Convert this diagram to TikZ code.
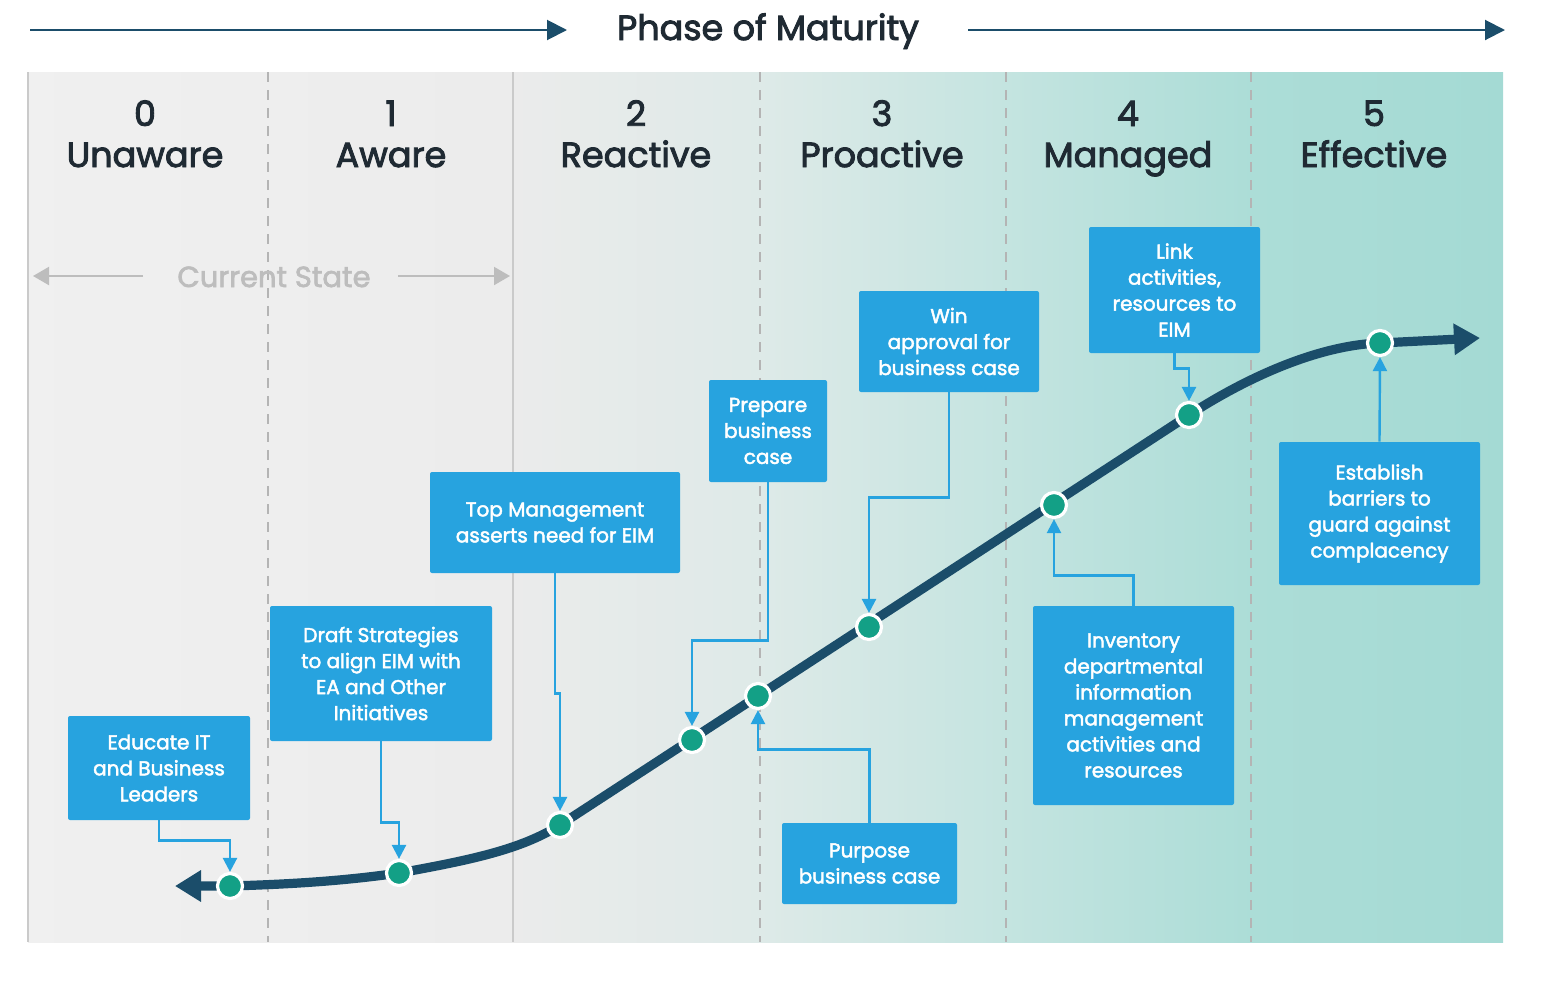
\documentclass[tikz,border=0pt]{standalone}
\usepackage{fontspec}
\setmainfont{Poppins}
\newfontfamily\medfont{Poppins}[FakeBold=2.2]
\newfontfamily\hdrfont{Poppins}[FakeBold=2.6]
\usetikzlibrary{arrows.meta}
\definecolor{darkline}{HTML}{1B4D6A}
\definecolor{boxblue}{HTML}{27A3DF}
\definecolor{dotgreen}{HTML}{13A086}
\definecolor{hdrtext}{HTML}{1F2A33}
\definecolor{graytext}{HTML}{BDBDBD}
\definecolor{divsolid}{HTML}{CACACA}
\definecolor{divdash}{HTML}{B4B4B4}
\tikzset{
  hdr/.style={font=\hdrfont\fontsize{17.5}{20}\selectfont, text=hdrtext, inner sep=0pt, anchor=base},
  stepbox/.style={fill=boxblue, rounded corners=1pt, text=white, align=center,
    font=\medfont\fontsize{10}{13}\selectfont, inner sep=0pt},
  dot/.style={circle, fill=dotgreen, draw=white, line width=1.6pt, minimum size=12.5pt, inner sep=0pt},
  conn/.style={draw=boxblue, line width=1.2pt, -{Triangle[length=7pt,width=7pt]}},
  curve/.style={draw=darkline, line width=4.6pt, {Triangle[length=13pt,width=15pt]}-{Triangle[length=13pt,width=15pt]}},
  phasearrow/.style={draw=darkline, line width=1pt, -{Triangle[length=10pt,width=10pt]}},
  cursarrow/.style={draw=graytext, line width=1pt, -{Triangle[length=8pt,width=9pt]}},
  dashdiv/.style={draw=divdash, line width=0.6pt, dash pattern=on 5pt off 4pt},
  soliddiv/.style={draw=divsolid, line width=0.8pt}
}
\begin{document}
\begin{tikzpicture}[x=0.5pt, y=-0.5pt]
\useasboundingbox (0,0) rectangle (1543,997);
% background panel
\shade[left color=black!6, right color=black!7.5] (28,72) rectangle (513.5,942);
\shade[left color={rgb,255:red,235;green,235;blue,235}, right color={rgb,255:red,222;green,234;blue,232}] (513,72) rectangle (760.5,942);
\shade[left color={rgb,255:red,222;green,234;blue,232}, right color={rgb,255:red,196;green,228;blue,224}] (760,72) rectangle (1006.5,942);
\shade[left color={rgb,255:red,196;green,228;blue,224}, right color={rgb,255:red,172;green,221;blue,215}] (1006,72) rectangle (1251.5,942);
\shade[left color={rgb,255:red,172;green,221;blue,215}, right color={rgb,255:red,164;green,218;blue,212}] (1251,72) rectangle (1503,942);
% dividers
\draw[soliddiv] (28,72) -- (28,942);
\draw[soliddiv] (513,72) -- (513,942);
\foreach \xx in {268,760,1006,1251} \draw[dashdiv] (\xx,72) -- (\xx,942);
% title and phase arrows
\node[hdr] (title) at (768,40) {Phase of Maturity};
\coordinate (pa1s) at (30,30); \coordinate (pa1e) at (567,30);
\coordinate (pa2s) at (968,30); \coordinate (pa2e) at (1505,30);
\draw[phasearrow] (pa1s) -- (pa1e);
\draw[phasearrow] (pa2s) -- (pa2e);
% headers
\node[hdr] (n0) at (145,126) {0}; \node[hdr] (t0) at (145,167) {Unaware};
\node[hdr] (n1) at (391,126) {1}; \node[hdr] (t1) at (391,167) {Aware};
\node[hdr] (n2) at (636,126) {2}; \node[hdr] (t2) at (636,167) {Reactive};
\node[hdr] (n3) at (882,126) {3}; \node[hdr] (t3) at (882,167) {Proactive};
\node[hdr] (n4) at (1128,126) {4}; \node[hdr] (t4) at (1128,167) {Managed};
\node[hdr] (n5) at (1374,126) {5}; \node[hdr] (t5) at (1374,167) {Effective};
% current state
\node[font=\medfont\fontsize{14.5}{16}\selectfont, text=graytext, inner sep=0pt, anchor=base] (cs) at (274,287) {Current State};
\coordinate (csl1) at (143,276); \coordinate (csl2) at (33,276);
\coordinate (csr1) at (398,276); \coordinate (csr2) at (510,276);
\draw[cursarrow] (csl1) -- (csl2);
\draw[cursarrow] (csr1) -- (csr2);
% curve
\coordinate (p1) at (230,886);
\coordinate (p2) at (399,873);
\coordinate (p3) at (560,825);
\coordinate (p4) at (692,740);
\coordinate (p5) at (758,696);
\coordinate (p6) at (869,627);
\coordinate (p7) at (1054,505);
\coordinate (p8) at (1189,415);
\coordinate (p9) at (1380,343);
\coordinate (tipL) at (175,886);
\coordinate (tipR) at (1480,338);
\draw[curve] (tipL) -- (p1) .. controls (300,884) and (350,880) .. (p2)
  .. controls (470,860) and (520,850) .. (p3) -- (p8)
  .. controls (1249,376) and (1320,345) .. (p9)
  .. controls (1420,341) .. (tipR);
\foreach \i in {1,...,9} \node[dot] (d\i) at (p\i) {};
% boxes
\node[stepbox, minimum width=91pt, minimum height=52pt] (b1) at (159,768) {Educate IT\\and Business\\Leaders};
\node[stepbox, minimum width=111pt, minimum height=67.5pt] (b2) at (381,673.5) {Draft Strategies\\to align EIM with\\EA and Other\\Initiatives};
\node[stepbox, minimum width=125pt, minimum height=50.5pt] (b3) at (555,522.5) {Top Management\\asserts need for EIM};
\node[stepbox, minimum width=59pt, minimum height=51pt] (b4) at (768,431) {Prepare\\business\\case};
\node[stepbox, minimum width=90pt, minimum height=50.5pt] (b5) at (949,341.5) {Win\\approval for\\business case};
\node[stepbox, minimum width=85.5pt, minimum height=63pt] (b6) at (1174.5,290) {Link\\activities,\\resources to\\EIM};
\node[stepbox, minimum width=100.5pt, minimum height=71.5pt] (b7) at (1379.5,513.5) {Establish\\barriers to\\guard against\\complacency};
\node[stepbox, minimum width=100.5pt, minimum height=99.5pt] (b8) at (1133.5,705.5) {Inventory\\departmental\\information\\management\\activities and\\resources};
\node[stepbox, minimum width=87.5pt, minimum height=40.5pt] (b9) at (869.5,863.5) {Purpose\\business case};
% connectors
\draw[conn] (b1.south) -- ++(0,20) -| (d1.north);
\draw[conn] (b2.south) -- ++(0,81) -| (d2.north);
\draw[conn] (b3.south) -- ++(0,120) -| (d3.north);
\draw[conn] (b4.south) -- ++(0,158) -| (d4.north);
\draw[conn] (b5.south) -- ++(0,105) -| (d6.north);
\draw[conn] (b6.south) -- ++(0,15) -| (d8.north);
\draw[conn] (b7.north) -- (d9.south);
\draw[conn] (b8.north) -- ++(0,-30) -| (d7.south);
\draw[conn] (b9.north) -- ++(0,-73) -| (d5.south);
\end{tikzpicture}
\end{document}
